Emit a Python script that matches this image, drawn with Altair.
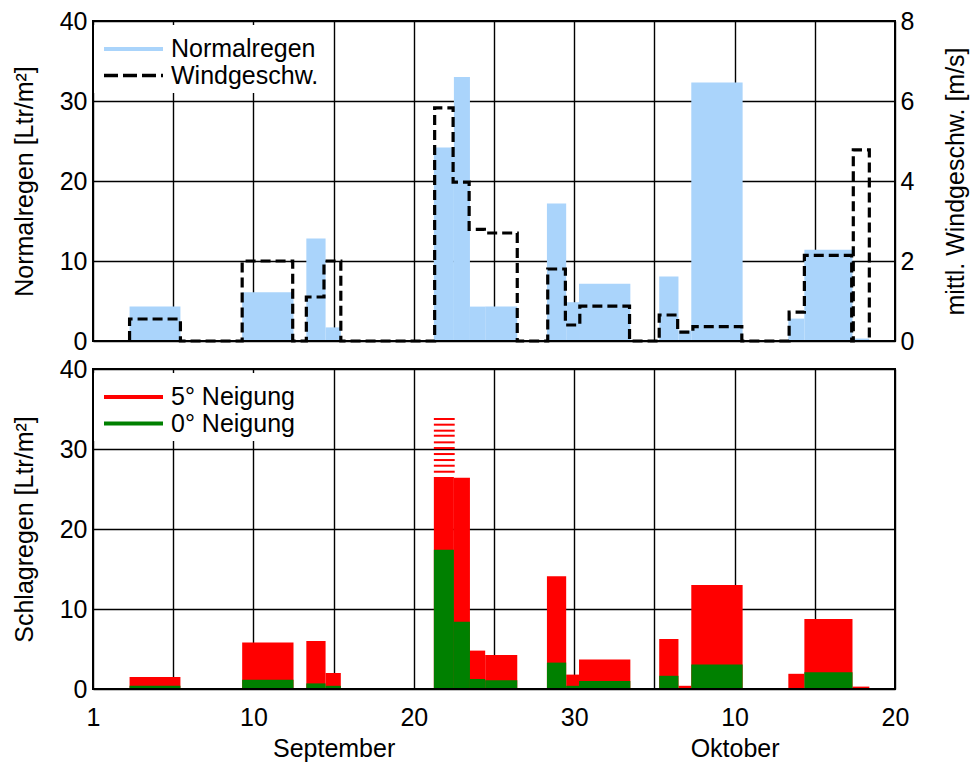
import altair as alt
import pandas as pd

# Measurement periods (x in days; 0 = tick "1" of September)
period_start = [2.28, 9.3, 13.3, 14.5, 21.25, 22.5, 23.5, 24.45, 28.3, 29.5, 30.3,
                35.3, 36.5, 37.3, 43.35, 44.35, 47.35]
period_end = [5.45, 12.5, 14.5, 15.45, 22.5, 23.5, 24.45, 26.45, 29.5, 30.3, 33.5,
              36.5, 37.3, 40.5, 44.35, 47.35, 48.4]
normalregen = [4.3, 6.1, 12.8, 1.7, 24.2, 33.0, 4.3, 4.3, 17.2, 4.85, 7.15,
               8.05, 1.3, 32.3, 2.8, 11.4, 0.3]
schlag_5 = [1.5, 5.8, 6.0, 2.0, 26.5, 26.4, 4.8, 4.25, 14.1, 1.8, 3.7,
            6.25, 0.4, 13.0, 1.9, 8.75, 0.3]
schlag_0 = [0.4, 1.15, 0.7, 0.4, 17.4, 8.4, 1.25, 1.1, 3.3, 0.4, 1.0,
            1.65, 0.1, 3.05, 0.1, 2.1, 0.05]

# mean wind speed, step function (value valid from x until next x)
wind_x = [2.28, 2.28, 5.45, 9.3, 12.45, 13.3, 14.4, 15.45, 21.3, 22.45, 23.45, 24.4,
          26.45, 28.35, 29.45, 30.35, 33.45, 35.3, 36.45, 37.4, 40.45, 43.4, 44.35,
          47.3, 47.4, 48.4]
wind_v = [0, 0.55, 0, 2.0, 0, 1.1, 2.0, 0, 5.83, 3.97, 2.79, 2.7,
          0, 1.8, 0.4, 0.87, 0, 0.65, 0.22, 0.36, 0, 0.72, 2.14,
          0, 4.78, 0]

# hatched overflow of the 5-degree bar
hatch_start = 21.25
hatch_end = 22.55
hatch_levels = [33.75, 33.04, 32.29, 31.66, 30.83, 30.12, 29.37, 28.62, 27.91, 27.16]

grid_days = [0, 5, 10, 15, 20, 25, 30, 35, 40, 45, 50]
tick_days = [0, 10, 20, 30, 40, 50]
tick_labels = ["1", "10", "20", "30", "10", "20"]
month_days = [15, 40]
month_labels = ["September", "Oktober"]

BLUE = "#aad4fb"
RED = "#ff0000"
GREEN = "#008000"
FONT = "Liberation Sans"
FS = 25
W, H = 802, 320

bars = pd.DataFrame({
    "start": period_start, "end": period_end, "normal": normalregen,
    "s5": schlag_5, "s0": schlag_0,
})
wind = pd.DataFrame({"x": wind_x, "v": wind_v, "i": list(range(len(wind_x)))})
hatch = pd.DataFrame({"a": [hatch_start] * len(hatch_levels),
                      "b": [hatch_end] * len(hatch_levels), "y": hatch_levels})

# label expression for x axis
parts = []
for d, lab in zip(tick_days, tick_labels):
    if d in month_days:
        m = month_labels[month_days.index(d)]
        parts.append(f"datum.value == {d} ? ['{lab}', '{m}']")
    else:
        parts.append(f"datum.value == {d} ? '{lab}'")
for d, m in zip(month_days, month_labels):
    if d not in tick_days:
        parts.append(f"datum.value == {d} ? ['', '{m}']")
label_expr = " : ".join(parts) + " : ''"

xscale = alt.Scale(domain=[0, 50], nice=False, zero=False)
x_top = alt.X("start:Q", scale=xscale, title=None,
              axis=alt.Axis(values=grid_days, labels=False, ticks=False, domain=False))
x_bot = alt.X("start:Q", scale=xscale, title=None,
              axis=alt.Axis(values=grid_days, labelExpr=label_expr, ticks=False,
                            domain=False, labelFlush=False, labelOverlap=False,
                            labelPadding=16, labelLineHeight=31))

def y_left(field, title):
    return alt.Y(field, scale=alt.Scale(domain=[0, 40], nice=False), title=title,
                 axis=alt.Axis(values=[0, 10, 20, 30, 40], ticks=False, domain=False,
                               labelPadding=6, titlePadding=22, labelOverlap=False))

one = alt.Data(values=[{}])

def legend_items(labels, colors, dashes, widths):
    layers = [alt.Chart(one).mark_rect(color="white").encode(
        x=alt.value(1), x2=alt.value(236), y=alt.value(4), y2=alt.value(72))]
    for k, (lab, col, dash, sw) in enumerate(zip(labels, colors, dashes, widths)):
        yy = 28 + 26.5 * k
        kw = dict(color=col, strokeWidth=sw)
        if dash:
            kw["strokeDash"] = dash
        layers.append(alt.Chart(one).mark_rule(**kw).encode(
            x=alt.value(11), x2=alt.value(70), y=alt.value(yy)))
        layers.append(alt.Chart(one).mark_text(
            text=lab, align="left", baseline="middle", font=FONT, fontSize=FS,
            color="black").encode(x=alt.value(78), y=alt.value(yy)))
    return layers

baseline = alt.Chart(one).mark_rule(color="black", strokeWidth=2).encode(
    x=alt.value(0), x2=alt.value(W), y=alt.value(H))

# ---- top panel
rain = alt.Chart(bars).mark_rect(color=BLUE).encode(
    x=x_top, x2="end:Q", y=y_left("normal:Q", "Normalregen [Ltr/m²]"), y2=alt.datum(0))
windline = alt.Chart(wind).mark_line(
    color="black", strokeWidth=3.2, strokeDash=[10, 5], interpolate="step-after").encode(
    x=alt.X("x:Q", scale=xscale),
    y=alt.Y("v:Q", scale=alt.Scale(domain=[0, 8], nice=False),
            title="mittl. Windgeschw. [m/s]",
            axis=alt.Axis(orient="right", values=[0, 2, 4, 6, 8], grid=False,
                          ticks=False, domain=False, labelPadding=5,
                          titlePadding=30, titleAngle=270, titleBaseline="top")),
    order="i:Q")

top = alt.layer(
    alt.layer(rain, baseline), windline,
    *legend_items(["Normalregen", "Windgeschw."], [BLUE, "black"], [None, [14, 5]], [4, 3.3]),
).resolve_scale(y="independent").properties(width=W, height=H)

# ---- bottom panel
red = alt.Chart(bars).mark_rect(color=RED).encode(
    x=x_bot, x2="end:Q", y=y_left("s5:Q", "Schlagregen [Ltr/m²]"), y2=alt.datum(0))
green = alt.Chart(bars).mark_rect(color=GREEN).encode(
    x=alt.X("start:Q", scale=xscale), x2="end:Q", y=alt.Y("s0:Q"), y2=alt.datum(0))
hatchr = alt.Chart(hatch).mark_rule(color=RED, strokeWidth=2).encode(
    x=alt.X("a:Q", scale=xscale), x2="b:Q", y=alt.Y("y:Q"))

bottom = alt.layer(
    red, green, hatchr, baseline,
    *legend_items(["5° Neigung", "0° Neigung"], [RED, GREEN], [None, None], [4, 4]),
).properties(width=W, height=H)

chart = alt.vconcat(top, bottom, spacing=28, bounds="flush").properties(
    padding={"left": 3, "top": 0, "right": 0, "bottom": 0}
).configure_view(stroke="black", strokeWidth=2).configure_axis(
    gridColor="black", gridWidth=1.4, gridOpacity=1,
    labelFont=FONT, titleFont=FONT, labelFontSize=FS, titleFontSize=FS,
    titleFontWeight="normal", labelColor="black", titleColor="black",
)

chart.save("out.html", embed_options={"renderer": "svg", "actions": False})
